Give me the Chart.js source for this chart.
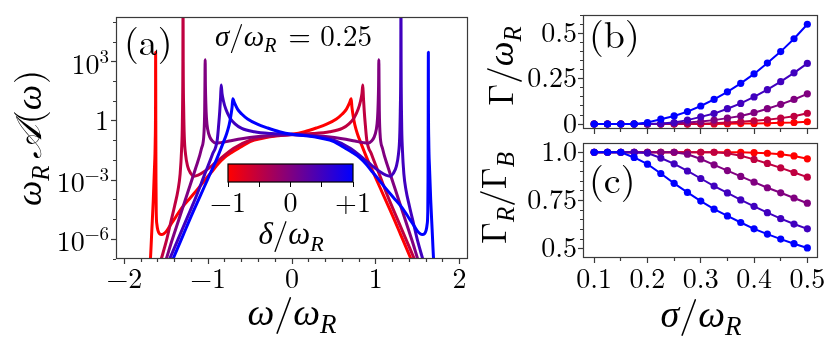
<!DOCTYPE html>
<html><head><meta charset="utf-8">
<script src="https://cdn.jsdelivr.net/npm/chart.js@4.4.1/dist/chart.umd.min.js"></script>
<style>
html,body{margin:0;padding:0;background:#fff;}
#wrap{position:relative;width:830px;height:349px;overflow:hidden;background:#fff;}
#wrap canvas{position:absolute;left:0;top:0;}
</style></head><body>
<div id="wrap">
<canvas id="cA" width="830" height="349"></canvas>
<canvas id="cB" width="830" height="349"></canvas>
<canvas id="cC" width="830" height="349"></canvas>
<canvas id="cBar" width="830" height="349"></canvas>
</div>
<script>
// ---------------- DATA ----------------
const deltaValues = [-1, -0.5, 0, 0.5, 1];
const deltaNames = ['δ=-1', 'δ=-0.5', 'δ=0', 'δ=+0.5', 'δ=+1'];

// Panel (a): omega/omega_R and log10(omega_R A(omega)), sigma/omega_R = 0.25
const redOmega = [-1.705,-1.69,-1.672,-1.655,-1.642,-1.632,-1.628,-1.627,-1.625,-1.623,-1.62,-1.612,-1.60,-1.58,-1.555,-1.53,-1.50,-1.468,-1.40,-1.31,-1.21,-1.111,-1.03,-0.952,-0.88,-0.81,-0.72,-0.6,-0.5,-0.35,-0.2,0,0.15,0.29,0.42,0.53,0.6,0.65,0.685,0.706,0.715,0.73,0.75,0.78,0.82,0.9,1.0,1.1,1.2,1.3,1.42,1.47];
const redLogA = [-7.6,-7.05,-5.5,-4.0,-2.5,-1.0,1.0,3.48,0,-3.0,-4.6,-5.25,-5.55,-5.72,-5.76,-5.72,-5.6,-5.4,-4.95,-4.38,-3.88,-3.38,-2.95,-2.55,-2.17,-1.87,-1.6,-1.3,-1.05,-0.88,-0.77,-0.68,-0.55,-0.36,-0.15,0.1,0.35,0.6,0.9,1.12,0.7,0.25,-0.2,-0.65,-1.1,-1.95,-2.9,-3.85,-4.8,-5.8,-7.0,-7.5];

const crimsonOmega = [-1.60,-1.56,-1.50,-1.45,-1.40,-1.36,-1.335,-1.318,-1.308,-1.302,-1.300,-1.298,-1.292,-1.285,-1.27,-1.245,-1.21,-1.17,-1.12,-1.05,-0.95,-0.85,-0.7,-0.5,-0.3,0,0.25,0.45,0.6,0.68,0.74,0.79,0.82,0.835,0.845,0.852,0.862,0.875,0.893,0.95,1.05,1.15,1.25,1.35,1.46,1.50];
const crimsonLogA = [-7.6,-7.0,-6.1,-5.2,-4.3,-3.5,-2.7,-1.5,0,3,6.5,3,0.5,-0.8,-1.7,-2.3,-2.65,-2.8,-2.75,-2.58,-2.25,-1.9,-1.4,-0.98,-0.8,-0.68,-0.64,-0.55,-0.38,-0.15,0.15,0.6,1.05,1.4,1.82,1.2,0.5,-0.2,-0.99,-1.7,-2.8,-3.9,-4.9,-5.9,-7.0,-7.4];

const purpleOmega = [-1.54,-1.50,-1.45,-1.35,-1.25,-1.15,-1.08,-1.05,-1.042,-1.039,-1.036,-1.033,-1.028,-1.02,-1.005,-0.98,-0.95,-0.905,-0.85,-0.75,-0.6,-0.4,-0.2,0,0.2,0.4,0.6,0.75,0.85,0.905,0.95,0.98,1.005,1.02,1.028,1.033,1.036,1.039,1.042,1.05,1.08,1.15,1.25,1.35,1.45,1.50,1.54];
const purpleLogA = [-7.5,-7.0,-6.3,-5.0,-3.7,-2.4,-1.4,-0.6,0.5,1.8,3.1,1.8,0.9,0.1,-0.45,-0.82,-1.02,-1.13,-1.1,-1.02,-0.9,-0.79,-0.72,-0.7,-0.72,-0.79,-0.9,-1.02,-1.1,-1.13,-1.02,-0.82,-0.45,0.1,0.9,1.8,3.1,1.8,0.5,-0.6,-1.4,-2.4,-3.7,-5.0,-6.3,-7.0,-7.5];

const indigoOmega = [-1.50,-1.46,-1.35,-1.25,-1.15,-1.05,-0.95,-0.893,-0.875,-0.862,-0.852,-0.845,-0.835,-0.82,-0.79,-0.74,-0.68,-0.6,-0.45,-0.25,0,0.3,0.5,0.7,0.85,0.95,1.05,1.12,1.17,1.21,1.245,1.27,1.285,1.292,1.298,1.300,1.302,1.308,1.318,1.335,1.36,1.40,1.45,1.50,1.56,1.60];
const indigoLogA = [-7.4,-7.0,-5.9,-4.9,-3.9,-2.8,-1.7,-0.99,-0.2,0.5,1.2,1.82,1.4,1.05,0.6,0.15,-0.15,-0.38,-0.55,-0.64,-0.68,-0.8,-0.98,-1.4,-1.9,-2.25,-2.58,-2.75,-2.8,-2.65,-2.3,-1.7,-0.8,0.5,3,6.5,3,0,-1.5,-2.7,-3.5,-4.3,-5.2,-6.1,-7.0,-7.6];

const blueOmega = [-1.47,-1.42,-1.3,-1.2,-1.1,-1.0,-0.9,-0.82,-0.78,-0.75,-0.73,-0.715,-0.706,-0.685,-0.65,-0.6,-0.53,-0.42,-0.29,-0.15,0,0.2,0.35,0.5,0.6,0.72,0.81,0.88,0.952,1.03,1.111,1.21,1.31,1.40,1.468,1.50,1.53,1.555,1.58,1.60,1.612,1.62,1.623,1.625,1.627,1.628,1.632,1.642,1.655,1.672,1.69,1.705];
const blueLogA = [-7.5,-7.0,-5.8,-4.8,-3.85,-2.9,-1.95,-1.1,-0.65,-0.2,0.25,0.7,1.12,0.9,0.6,0.35,0.1,-0.15,-0.36,-0.55,-0.68,-0.77,-0.88,-1.05,-1.3,-1.6,-1.87,-2.17,-2.55,-2.95,-3.38,-3.88,-4.38,-4.95,-5.4,-5.6,-5.72,-5.76,-5.72,-5.55,-5.25,-4.6,-3.0,0,3.48,1.0,-1.0,-2.5,-4.0,-5.5,-7.05,-7.6];

// Panels (b), (c): sigma/omega_R
const sigmaValues = [0.1,0.125,0.15,0.175,0.2,0.225,0.25,0.275,0.3,0.325,0.35,0.375,0.4,0.425,0.45,0.475,0.5];
const gammaRed     = [0,0,0,0,0,0,0,0,0,0.001,0.002,0.003,0.004,0.005,0.007,0.009,0.013];
const gammaCrimson = [0,0,0,0,0,0,0,0.001,0.002,0.005,0.009,0.013,0.018,0.024,0.033,0.043,0.060];
const gammaPurple  = [0,0,0,0,0,0.001,0.004,0.009,0.014,0.022,0.033,0.045,0.063,0.085,0.109,0.136,0.167];
const gammaIndigo  = [0,0,0,0,0.001,0.004,0.009,0.022,0.040,0.058,0.085,0.114,0.150,0.190,0.234,0.283,0.335];
const gammaBlue    = [0,0,0,0.001,0.009,0.027,0.045,0.069,0.100,0.136,0.178,0.225,0.277,0.337,0.400,0.471,0.551];

const ratioRed     = [1,1,1,1,1,1,1,1,1,1,1,1,0.998,0.995,0.990,0.981,0.966];
const ratioCrimson = [1,1,1,1,1,1,1,1,1,1,0.995,0.982,0.963,0.942,0.919,0.895,0.871];
const ratioPurple  = [1,1,1,1,1,1,1,0.990,0.965,0.935,0.905,0.875,0.845,0.816,0.790,0.763,0.736];
const ratioIndigo  = [1,1,1,1,0.996,0.970,0.940,0.903,0.864,0.825,0.789,0.753,0.720,0.687,0.656,0.628,0.603];
const ratioBlue    = [1,1,1,0.973,0.938,0.890,0.839,0.792,0.747,0.705,0.670,0.636,0.603,0.576,0.550,0.526,0.504];

// Tick values / labels
const aXMajor = [-2,-1,0,1,2];
const aXMajorLabels = ['−2','−1','0','1','2'];
const aXMinorStep = 0.2;
const aYDecades = [-7,-6,-5,-4,-3,-2,-1,0,1,2,3,4,5];
const aYLabelExps = [-6,-3,0,3];
const bcXTicks = [0.1,0.15,0.2,0.25,0.3,0.35,0.4,0.45,0.5];
const bcXLabelVals = [0.1,0.2,0.3,0.4,0.5];
const bcXLabels = ['0.1','0.2','0.3','0.4','0.5'];
const bYTicks = [0,0.05,0.1,0.15,0.2,0.25,0.3,0.35,0.4,0.45,0.5,0.55,0.6];
const bYLabelVals = [0,0.25,0.5];
const bYLabels = ['0','0.25','0.5'];
const cYTicks = [0.5,0.55,0.6,0.65,0.7,0.75,0.8,0.85,0.9,0.95,1.0];
const cYLabelVals = [0.5,0.75,1.0];
const cYLabels = ['0.5','0.75','1.0'];
const cbarTicks = [-1,-0.5,0,0.5,1];
const cbarLabels = ['−1','','0','','+1'];

// ---------------- STYLE ----------------
const COLORS = ['#ff0000','#bf0040','#800080','#4000bf','#0000ff'];
const AX = '#3a3a3a';
const FAM_R = "'Latin Modern Roman'";
const FAM_I = "'Liberation Serif'";
const TICKFONT = {family: FAM_R, size: 28, lineHeight: 1};

function drawRich(ctx, parts, x, y, size, align, rot) {
  const segs = parts.map(p => {
    const [t, k, gap] = p;
    const sub = k === 'si' || k === 'sr';
    const sup = k === 'p';
    const sz = Math.round((sub || sup) ? size * 0.7 : size);
    const ital = (k === 'i' || k === 'si');
    const font = ital ? ('italic ' + sz + 'px ' + FAM_I) : (sz + 'px ' + FAM_R);
    ctx.font = font;
    const w = ctx.measureText(t).width + (gap || 0);
    const dy = sub ? size * 0.22 : (sup ? -size * 0.4 : 0);
    return {t, font, w, dy};
  });
  const total = segs.reduce((a, s) => a + s.w, 0);
  ctx.save();
  ctx.translate(x, y);
  if (rot) ctx.rotate(rot);
  let cx = align === 'center' ? -total / 2 : (align === 'right' ? -total : 0);
  ctx.fillStyle = '#000';
  ctx.textBaseline = 'alphabetic';
  ctx.textAlign = 'left';
  for (const s of segs) { ctx.font = s.font; ctx.fillText(s.t, cx, s.dy); cx += s.w; }
  ctx.restore();
}

function near(v, arr) { return arr.findIndex(a => Math.abs(a - v) < 1e-6); }

function decoPlugin(texts, extra) {
  return {
    id: 'deco',
    afterDraw(chart) {
      const ctx = chart.ctx, a = chart.chartArea;
      ctx.save();
      ctx.strokeStyle = AX; ctx.lineWidth = 1.2;
      ctx.strokeRect(Math.round(a.left) + 0.5, Math.round(a.top) + 0.5, Math.round(a.right - a.left) - 1, Math.round(a.bottom - a.top) - 1);
      ctx.restore();
      if (extra) extra(chart);
      texts.forEach(t => drawRich(ctx, t.parts, t.x, t.y, t.size, t.align, t.rot));
    }
  };
}

function gridOpts(isMinor, tl, ml, pos) {
  return {
    display: true, drawOnChartArea: false, drawTicks: true, tickLength: tl,
    tickColor: AX, tickWidth: 1.2, color: AX,
    tickBorderDash: c => (c.tick && isMinor(c.tick.value)) ? (pos === 'left' ? [0, tl - ml, ml, 200] : [ml, 200]) : []
  };
}

const base = {
  responsive: false, maintainAspectRatio: false, animation: false, devicePixelRatio: 1, events: [],
};
const noPlug = {legend: {display: false}, tooltip: {enabled: false}};

// ---------------- PANEL (a) ----------------
const aSeries = [[redOmega, redLogA],[crimsonOmega, crimsonLogA],[purpleOmega, purpleLogA],[indigoOmega, indigoLogA],[blueOmega, blueLogA]];
const aDatasets = aSeries.map(([w, L], i) => ({
  label: deltaNames[i],
  data: w.map((x, j) => ({x, y: Math.pow(10, L[j])})),
  showLine: true, borderColor: COLORS[i], borderWidth: 3, pointRadius: 0,
  cubicInterpolationMode: 'monotone', clip: 0, order: 4 - i,
  borderJoinStyle: 'round', borderCapStyle: 'round'
}));

new Chart(document.getElementById('cA'), {
  type: 'scatter',
  data: {datasets: aDatasets},
  options: {
    ...base,
    layout: {padding: {left: 0, top: 14, right: 362, bottom: 0}},
    plugins: noPlug,
    scales: {
      x: {
        type: 'linear', position: 'bottom', min: -2.1, max: 2.1,
        afterBuildTicks: s => { const t = []; for (let k = -10; k <= 10; k++) t.push({value: +(k * aXMinorStep).toFixed(2)}); s.ticks = t; },
        afterFit: s => { s.height = 90; },
        ticks: {autoSkip: false, maxRotation: 0, color: '#000', font: TICKFONT, padding: 1,
          callback: v => { const i = near(v, aXMajor); return i >= 0 ? aXMajorLabels[i] : ''; }},
        grid: gridOpts(v => near(v, aXMajor) < 0, 5, 3, 'bottom'),
        border: {display: false}
      },
      y: {
        type: 'logarithmic', position: 'left', min: 1e-7, max: 1.86e5,
        afterBuildTicks: s => { s.ticks = aYDecades.map(k => ({value: Math.pow(10, k)})); },
        afterFit: s => { s.width = 116; },
        ticks: {autoSkip: false, callback: () => '', font: TICKFONT},
        grid: gridOpts(v => near(Math.round(Math.log10(v)), aYLabelExps) < 0, 5, 3, 'left'),
        border: {display: false}
      }
    }
  },
  plugins: [decoPlugin([
    {parts: [['(a)', 'r']], x: 124, y: 55, size: 38, align: 'left'},
    {parts: [['σ', 'i'], ['/', 'r'], ['ω', 'i'], ['R', 'si', 2], [' = 0.25', 'r']], x: 215, y: 46, size: 29, align: 'left'},
    {parts: [['ω', 'i'], ['R', 'si', 6], ['𝒜', 'i', 1], ['(', 'r'], ['ω', 'i', 1], [')', 'r']], x: 41, y: 138, size: 36, align: 'center', rot: -Math.PI / 2},
    {parts: [['ω', 'i'], ['/', 'r'], ['ω', 'i'], ['R', 'si']], x: 292, y: 325, size: 38, align: 'center'}
  ], chart => {
    const ys = chart.scales.y, ctx = chart.ctx;
    aYLabelExps.forEach(k => {
      const py = ys.getPixelForValue(Math.pow(10, k));
      const xr = 109;
      if (k === 0) {
        drawRich(ctx, [['1', 'r']], xr, py + 9.5, 28, 'right');
      } else {
        const supTxt = k < 0 ? '−' + (-k) : String(k);
        ctx.font = '19px ' + FAM_R;
        const ws = ctx.measureText(supTxt).width;
        drawRich(ctx, [['10', 'r']], xr - ws, py + 12, 28, 'right');
        drawRich(ctx, [[supTxt, 'r']], xr, py + 1, 19, 'right');
      }
    });
  })]
});

// ---------------- PANEL (b) ----------------
const bSeries = [gammaRed, gammaCrimson, gammaPurple, gammaIndigo, gammaBlue];
const cSeries = [ratioRed, ratioCrimson, ratioPurple, ratioIndigo, ratioBlue];
function markerSets(series) {
  return series.map((vals, i) => ({
    label: deltaNames[i],
    data: sigmaValues.map((x, j) => ({x, y: vals[j]})),
    showLine: true, borderColor: COLORS[i], backgroundColor: COLORS[i], borderWidth: 2,
    pointRadius: 3.6, pointBorderWidth: 0, pointBackgroundColor: COLORS[i], order: 4 - i, clip: 4
  }));
}

const bcX = (labels, h) => ({
  type: 'linear', position: 'bottom', min: 0.079, max: 0.52,
  afterBuildTicks: s => { s.ticks = bcXTicks.map(v => ({value: v})); },
  afterFit: s => { s.height = h; },
  ticks: {autoSkip: false, maxRotation: 0, color: '#000', font: TICKFONT, padding: 2,
    callback: v => { if (!labels) return ''; const i = near(v, bcXLabelVals); return i >= 0 ? bcXLabels[i] : ''; }},
  grid: gridOpts(v => near(v, bcXLabelVals) < 0, 5, 3, 'bottom'),
  border: {display: false}
});

new Chart(document.getElementById('cB'), {
  type: 'scatter',
  data: {datasets: markerSets(bSeries)},
  options: {
    ...base,
    layout: {padding: {left: 0, top: 14, right: 12, bottom: 215}},
    plugins: noPlug,
    scales: {
      x: bcX(false, 5),
      y: {
        type: 'linear', position: 'left', min: -0.027, max: 0.602,
        afterBuildTicks: s => { s.ticks = bYTicks.map(v => ({value: v})); },
        afterFit: s => { s.width = 583; },
        ticks: {autoSkip: false, color: '#000', font: TICKFONT, padding: 1,
          callback: v => { const i = near(v, bYLabelVals); return i >= 0 ? bYLabels[i] : ''; }},
        grid: gridOpts(v => near(v, bYLabelVals) < 0, 5, 3, 'left'),
        border: {display: false}
      }
    }
  },
  plugins: [decoPlugin([
    {parts: [['(b)', 'r']], x: 589, y: 48, size: 38, align: 'left'},
    {parts: [['Γ', 'r'], ['/', 'r'], ['ω', 'i'], ['R', 'si']], x: 513, y: 66, size: 35, align: 'center', rot: -Math.PI / 2}
  ])]
});

// ---------------- PANEL (c) ----------------
new Chart(document.getElementById('cC'), {
  type: 'scatter',
  data: {datasets: markerSets(cSeries)},
  options: {
    ...base,
    layout: {padding: {left: 0, top: 143, right: 12, bottom: 0}},
    plugins: noPlug,
    scales: {
      x: bcX(true, 91),
      y: {
        type: 'linear', position: 'left', min: 0.452, max: 1.048,
        afterBuildTicks: s => { s.ticks = cYTicks.map(v => ({value: v})); },
        afterFit: s => { s.width = 583; },
        ticks: {autoSkip: false, color: '#000', font: TICKFONT, padding: 1,
          callback: v => { const i = near(v, cYLabelVals); return i >= 0 ? cYLabels[i] : ''; }},
        grid: gridOpts(v => near(v, cYLabelVals) < 0, 5, 3, 'left'),
        border: {display: false}
      }
    }
  },
  plugins: [decoPlugin([
    {parts: [['(c)', 'r']], x: 589, y: 193, size: 38, align: 'left'},
    {parts: [['Γ', 'r'], ['R', 'si'], ['/', 'r'], ['Γ', 'r'], ['B', 'si']], x: 506, y: 198, size: 35, align: 'center', rot: -Math.PI / 2},
    {parts: [['σ', 'i'], ['/', 'r'], ['ω', 'i'], ['R', 'si']], x: 701, y: 327, size: 38, align: 'center'}
  ])]
});

// ---------------- COLORBAR ----------------
const cbarPlugin = {
  id: 'cbar',
  beforeDatasetsDraw(chart) {
    const ctx = chart.ctx, a = chart.chartArea, xs = chart.scales.x;
    const g = ctx.createLinearGradient(a.left, 0, a.right, 0);
    deltaValues.forEach((d, i) => g.addColorStop((xs.getPixelForValue(d) - a.left) / (a.right - a.left), COLORS[i]));
    ctx.save();
    ctx.fillStyle = g;
    ctx.fillRect(a.left, a.top, a.right - a.left, a.bottom - a.top);
    ctx.strokeStyle = '#000'; ctx.lineWidth = 1.2;
    ctx.strokeRect(a.left, a.top, a.right - a.left, a.bottom - a.top);
    ctx.restore();
  }
};
new Chart(document.getElementById('cBar'), {
  type: 'scatter',
  data: {datasets: []},
  options: {
    ...base,
    layout: {padding: {left: 228, top: 164, right: 477, bottom: 107}},
    plugins: noPlug,
    scales: {
      x: {
        type: 'linear', position: 'bottom', min: -1, max: 1,
        afterBuildTicks: s => { s.ticks = cbarTicks.map(v => ({value: v})); },
        afterFit: s => { s.height = 60; },
        ticks: {autoSkip: false, maxRotation: 0, color: '#000', font: TICKFONT, padding: 2,
          callback: v => { const i = near(v, cbarTicks); return i >= 0 ? cbarLabels[i] : ''; }},
        grid: {display: true, drawOnChartArea: false, drawTicks: true, tickLength: 5, tickColor: '#000', tickWidth: 1},
        border: {display: false}
      },
      y: {type: 'linear', display: false, min: 0, max: 1, afterFit: s => { s.width = 0; }}
    }
  },
  plugins: [cbarPlugin, {
    id: 'cbarText',
    afterDraw(chart) {
      drawRich(chart.ctx, [['δ', 'i'], ['/', 'r'], ['ω', 'i'], ['R', 'si']], 291, 244, 31, 'center');
    }
  }]
});
</script>
</body></html>
